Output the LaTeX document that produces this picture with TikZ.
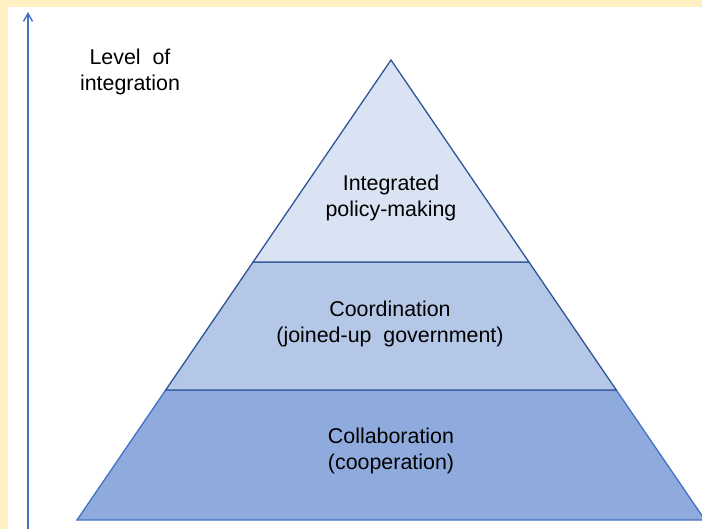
\documentclass[tikz,border=0pt]{standalone}
\usepackage{fontspec}
\setmainfont{Liberation Sans}
\usetikzlibrary{arrows.meta}
\usepackage{xcolor}
\definecolor{paleyellow}{RGB}{255,240,193}
\definecolor{bandtop}{RGB}{218,227,243}
\definecolor{bandmid}{RGB}{180,199,231}
\definecolor{bandlow}{RGB}{143,170,220}
\definecolor{edgedark}{RGB}{47,85,151}
\definecolor{edgelight}{RGB}{68,114,196}

\begin{document}
\begin{tikzpicture}[x=0.5pt, y=-0.5pt, >={Straight Barb[length=4pt, width=4.5pt]}]
				\tikzstyle{band} = [line width=0.65pt, line join=miter]
				\tikzstyle{label} = [draw=none, align=center, font=\fontsize{10.7}{12.9}\selectfont]
				
				% frame and page
				\fill[paleyellow] (0,0) rectangle (702,529);
				\fill[white] (8,7) rectangle (702,529);
				\useasboundingbox (0,0) rectangle (702,529);
				\clip (0,0) rectangle (702,529);
				
				% corners of the pyramid
				\coordinate (apex)	at (391, 60);
				\coordinate (l1)	at (253.1, 262);
				\coordinate (r1)	at (528.9, 262);
				\coordinate (l2)	at (165.7, 390);
				\coordinate (r2)	at (616.3, 390);
				\coordinate (bl)	at (77, 520);
				\coordinate (br)	at (705, 520);
				
				\filldraw[band, fill=bandlow, draw=edgelight]	(l2) -- (r2) -- (br) -- (bl) -- cycle;
				\filldraw[band, fill=bandmid, draw=edgedark]	(l1) -- (r1) -- (r2) -- (l2) -- cycle;
				\filldraw[band, fill=bandtop, draw=edgedark]	(apex) -- (r1) -- (l1) -- cycle;
				
				\node[label]	at (391, 198)	(top)	{Integrated\\policy-making};
				\node[label]	at (390, 324)	(mid)	{Coordination\\(joined-up~~government)};
				\node[label]	at (391, 451)	(low)	{Collaboration\\(cooperation)};
				\node[label]	at (130, 72)	(lev)	{Level~~of\\integration};
				
				% axis
				\coordinate (axisbot)	at (28, 529);
				\coordinate (axistop)	at (28, 12);
				\draw[->, edgelight, line width=0.7pt] (axisbot) -- (axistop);
			\end{tikzpicture}
\end{document}
